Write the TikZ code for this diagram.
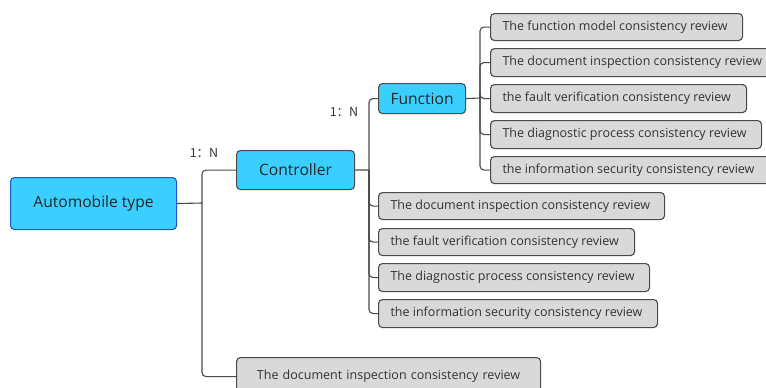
\documentclass[tikz,border=0pt]{standalone}
\usepackage{fontspec}
\setmainfont{Open Sans}
\newfontfamily\cjkfont{Noto Sans CJK SC}
\definecolor{topic}{HTML}{3BCFFF}
\definecolor{leaffill}{HTML}{D9D9D9}
\definecolor{edge}{HTML}{4A4A4A}
\definecolor{txt}{HTML}{333333}
\tikzset{
  mainbox/.style={draw=edge, line width=1.1pt, fill=topic, rounded corners=4pt,
    anchor=north west, inner sep=0pt, text=black!85, font=\fontsize{15.6}{18}\selectfont},
  leafbox/.style={draw=edge, line width=1.1pt, fill=leaffill, rounded corners=4pt,
    anchor=north west, inner xsep=12pt, inner ysep=0pt, align=flush left,
    text=txt, font=\fontsize{12.5}{14}\selectfont},
  link/.style={draw=edge, line width=1.1pt, rounded corners=4pt},
  ratio/.style={text=txt, font=\cjkfont\fontsize{12.5}{14}\selectfont}
}
\newcommand{\leaf}[6]{% name, x, y, width, height, text (kept on one line)
  \node[leafbox, minimum height=#5pt, text width=#4pt-24pt] (#1) at (#2,#3) {\mbox{#6}};}
\begin{document}
\begin{tikzpicture}[x=1pt,y=-1pt]
\useasboundingbox (0,0) rectangle (766,388);
\clip (0,0) rectangle (766,388);

% root and main topics
\node[mainbox, draw=blue!45!topic!80!black, minimum width=166pt, minimum height=52pt] (auto) at (10,177) {Automobile type};
\node[mainbox, minimum width=118pt, minimum height=39pt] (ctrl) at (236,150) {Controller};
\node[mainbox, minimum width=87pt, minimum height=30pt] (func) at (378,83) {Function};

% reviews under Function
\leaf{f1}{490}{13}{252}{27}{The function model consistency review}
\leaf{f2}{490}{48}{285}{28}{The document inspection consistency review}
\leaf{f3}{490}{84}{256}{28}{the fault verification consistency review}
\leaf{f4}{490}{120}{271}{28}{The diagnostic process consistency review}
\leaf{f5}{490}{156}{285}{27}{the information security consistency review}

% reviews under Controller
\leaf{c1}{378}{192}{286}{27}{The document inspection consistency review}
\leaf{c2}{378}{228}{256}{27}{the fault verification consistency review}
\leaf{c3}{378}{263}{271}{28}{The diagnostic process consistency review}
\leaf{c4}{378}{299}{279}{28}{the information security consistency review}

% review directly under Automobile type
\node[leafbox, minimum height=38pt, text width=280pt, align=center] (a1) at (236,357) {The document inspection consistency review};

% connectors: parent stub, then one bent branch per child off the trunk
\coordinate (ta) at (202,203);
\coordinate (tc) at (369,170);
\coordinate (tf) at (480,98);
\draw[link] (auto.east) -- (ta);
\foreach \c in {ctrl,a1}
  \draw[link] (ta) |- (\c.west);
\draw[link] (ctrl.east) -- (tc);
\foreach \c in {func,c1,c2,c3,c4}
  \draw[link] (tc) |- (\c.west);
\draw[link] (func.east) -- (tf);
\foreach \c in {f1,f2,f3,f4,f5}
  \draw[link] (tf) |- (\c.west);

% cardinality labels
\node[ratio] (r1) at (204,153) {1：N};
\node[ratio] (r2) at (344,112) {1：N};
\end{tikzpicture}
\end{document}
